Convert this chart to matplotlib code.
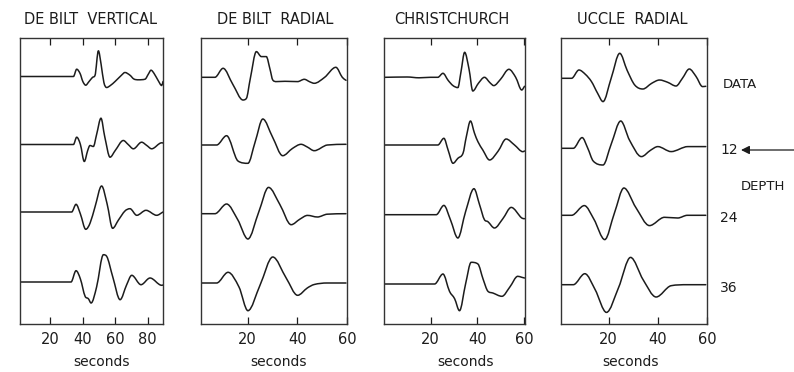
import numpy as np
import matplotlib
matplotlib.use("Agg")
import matplotlib.pyplot as plt
from matplotlib.path import Path
from matplotlib.patches import PathPatch, FancyArrowPatch

# ---------------- data ----------------
stations = ["DE BILT  VERTICAL", "DE BILT  RADIAL", "CHRISTCHURCH", "UCCLE  RADIAL"]
trace_names = ["DATA", "12", "24", "36"]
xticks_per_station = [[20, 40, 60, 80], [20, 40, 60], [20, 40, 60], [20, 40, 60]]

# DE BILT VERTICAL  (time s, amplitude)
dbv_data_t = [1, 34.2, 36.2, 38.3, 40, 41.8, 43.6, 45.9, 47.5, 49.6, 51.3, 53, 54.7, 57, 59.9, 64, 66.0, 69.1, 71.5, 74.3, 78.4, 80.5, 82.1, 84, 86.5, 88.7, 89.5]
dbv_data_a = [0, 0, 7.3, 3, -5, -8.7, -5.5, -1, 1, 25.7, 12, -6, -11, -9, -5, 1.5, 4, 1.3, -2.5, -3.3, -2.7, 2.5, 6.3, 3, -4, -9, -5]
dbv_12_t = [1, 34.2, 36.2, 38.5, 40.9, 43, 44.4, 46.5, 48.5, 51.2, 53.5, 56.8, 60, 65, 68, 71.2, 76.3, 79.5, 82.5, 88.7, 89.5]
dbv_12_a = [0, 0, 7.3, 0, -17, -6, -1, -2, 10, 26.3, 8, -12.7, -6, 4, 0, -4.3, 2.3, -1, -4.3, 1.7, 1.5]
dbv_24_t = [1, 33.1, 35.8, 38.5, 41.8, 44.5, 47.5, 51.6, 55, 58.4, 62, 66, 69.1, 73.3, 79, 85.6, 89.5]
dbv_24_a = [0, 0, 7.7, -2, -17.3, -11, 5, 26, 8, -16.3, -8, 1, 3.3, -3.3, 1.7, -3.3, 0]
dbv_36_t = [1, 32.7, 35.8, 38.5, 41.4, 43.4, 45.1, 48.5, 52.7, 54.7, 58.5, 63, 67, 70.2, 75.9, 81.5, 88.7, 89.5]
dbv_36_a = [0, 0, 11.3, 3, -14.3, -16.7, -21, -5, 27.3, 25.7, 5, -17.7, -3, 6.7, -2.7, 4, -3.3, -3]

# DE BILT RADIAL
dbr_data_t = [1, 6.8, 10.1, 14, 18.1, 19.5, 21, 23.5, 25.5, 27.5, 29, 30.1, 31.5, 35, 40.1, 42.8, 45, 46.8, 51, 55.5, 58.1, 59.6]
dbr_data_a = [0, 0, 9, -7, -22.7, -21, -2, 25.7, 20.7, 20.7, 8, -2.7, -4.3, -4, -4.3, -2, -4.5, -6, 0, 10, 0, -3]
dbr_12_t = [1, 7.5, 11.5, 16.1, 20.1, 23, 26.1, 30, 34.1, 38, 41.5, 44, 46.8, 52.1, 59.6]
dbr_12_a = [0, 0, 9.3, -16, -18.3, 3, 26, 8, -10.7, -3.5, 0.7, -2, -5.7, 0, 0.7]
dbr_24_t = [1, 6.8, 11.5, 16, 20.1, 24.5, 28.4, 33, 37.5, 41, 44.1, 48.1, 52, 59.6]
dbr_24_a = [0, 0, 9.7, -6, -25.3, 2, 26.3, 9, -11, -5.5, -1.7, -3.3, -0.5, 0]
dbr_36_t = [1, 7.5, 12.1, 16.5, 20.1, 25, 30.1, 35.5, 40.1, 44, 46.8, 52, 59.6]
dbr_36_a = [0, 0, 10.7, -4, -27.7, -2, 26, 5, -12.3, -5, -1.5, 0, 0]

# CHRISTCHURCH
chc_data_t = [0.5, 10, 15, 20, 23.1, 25.3, 27.5, 29.6, 31.7, 33, 34.6, 36.5, 38.1, 40.5, 43.1, 45.5, 47.1, 50, 53.6, 56.5, 59.1, 60.3]
chc_data_a = [0, 0.3, -0.5, 0, 0, 4, -3, -8.3, -10.3, 5, 25, 8, -13.7, -6, 0, -5.5, -8.3, -2, 8, 0, -12.7, -9]
chc_12_t = [0.5, 23.1, 25.7, 27.5, 29.6, 31.7, 33.9, 35.3, 37.1, 38.8, 40.3, 42.4, 45.3, 49, 52.4, 56, 59.6, 60.3]
chc_12_a = [0, 0, 6.7, -5, -18.3, -13.3, -8.3, 8, 24, 12, 3.3, -5, -15, -6, 6, 0, -6.7, -6]
chc_24_t = [0.5, 22.4, 25.7, 28.5, 31.7, 35, 38.6, 41, 43.1, 44.6, 47.4, 51, 54.6, 59.1, 60.3]
chc_24_a = [0, 0, 9.3, -5, -23.3, 3, 26, 10, -5, -7, -13.3, -4, 7.3, -3.3, -4]
chc_36_t = [0.5, 21.7, 25.3, 28.1, 30.3, 32.4, 35, 37.4, 40.3, 42.5, 44.6, 46.7, 50.6, 54, 57.4, 59.1, 60.3]
chc_36_a = [0, 0, 10, -7.3, -14.7, -26.7, 0, 21.7, 20, 5, -7.3, -9, -12.3, -3, 7.7, 6.7, 6]

# UCCLE RADIAL
ucr_data_t = [0.6, 4.9, 7.9, 10.5, 13, 15.5, 17.7, 21, 24.5, 27.5, 30.6, 33.9, 37.5, 40.7, 44, 47.4, 50, 52.8, 55.5, 58.2, 59.5]
ucr_data_a = [0, 0, 8.3, 4, -3.3, -15, -23.3, 0, 25, 8, -6.7, -10.7, -5, -1.7, -4, -7.7, 0, 9.3, 2, -8.3, -8]
ucr_12_t = [0.6, 5.6, 9.2, 11.5, 13.7, 17.7, 21, 24.9, 28.5, 33.3, 37, 40, 45.4, 52.2, 59.5]
ucr_12_a = [0, 0, 10.7, 0, -12.7, -16.7, 4, 27.3, 8, -8.3, -2, 1.7, -3.3, 1.7, 1.7]
ucr_24_t = [0.6, 4.9, 10.1, 14, 18.4, 22.3, 26.2, 31, 36.6, 42.7, 48.1, 52, 59.5]
ucr_24_a = [0, 0, 9.7, -4, -24.3, 2, 27.3, 8, -10.3, -2, -2.7, 0, 0]
ucr_36_t = [0.6, 5.6, 10.3, 14.5, 19.1, 24, 28.9, 34, 39.3, 45.4, 52, 59.5]
ucr_36_a = [0, 0, 11, -5, -27.7, -3, 27.3, 5, -12.3, -1, 0, 0]

traces = [
    [(dbv_data_t, dbv_data_a), (dbv_12_t, dbv_12_a), (dbv_24_t, dbv_24_a), (dbv_36_t, dbv_36_a)],
    [(dbr_data_t, dbr_data_a), (dbr_12_t, dbr_12_a), (dbr_24_t, dbr_24_a), (dbr_36_t, dbr_36_a)],
    [(chc_data_t, chc_data_a), (chc_12_t, chc_12_a), (chc_24_t, chc_24_a), (chc_36_t, chc_36_a)],
    [(ucr_data_t, ucr_data_a), (ucr_12_t, ucr_12_a), (ucr_24_t, ucr_24_a), (ucr_36_t, ucr_36_a)],
]

# ---------------- layout (pixels of a 794x372 canvas) ----------------
W, H = 794, 372
panel_lr = [(20, 163), (201, 347), (384, 525), (561, 707)]
panel_tb = (38, 324)
panel_xlim = [(1.2, 89.5), (1.2, 60), (0, 60.5), (0.6, 60)]
baselines = [[76.5, 144.5, 212, 282], [77.3, 145, 213.7, 283],
             [77.3, 145, 214.7, 284], [78.3, 148.3, 215.3, 284.7]]
title_x = [90, 275, 452, 632]
seconds_x = [102, 279, 466, 631]
ink = "#1c1c1c"


def smooth_path(t, y):
    """Cubic Bezier path through the read points (flat at local extrema)."""
    t = np.asarray(t, float)
    y = np.asarray(y, float)
    h = np.diff(t)
    d = np.diff(y) / h
    m = np.zeros_like(y)
    m[0], m[-1] = d[0], d[-1]
    for i in range(1, len(y) - 1):
        if d[i - 1] * d[i] > 0:
            c = (y[i + 1] - y[i - 1]) / (t[i + 1] - t[i - 1])
            lim = 3 * min(abs(d[i - 1]), abs(d[i]))
            m[i] = np.sign(c) * min(abs(c), lim)
    verts = [(t[0], y[0])]
    codes = [Path.MOVETO]
    for i in range(len(h)):
        verts += [(t[i] + h[i] / 3, y[i] + m[i] * h[i] / 3),
                  (t[i + 1] - h[i] / 3, y[i + 1] - m[i + 1] * h[i] / 3),
                  (t[i + 1], y[i + 1])]
        codes += [Path.CURVE4] * 3
    return Path(verts, codes)


plt.rcParams["font.family"] = ["DejaVu Sans"]
fig = plt.figure(figsize=(W / 100, H / 100), dpi=100)

top, bot = panel_tb
for k in range(4):
    L, R = panel_lr[k]
    ax = fig.add_axes([L / W, 1 - bot / H, (R - L) / W, (bot - top) / H])
    ax.set_xlim(*panel_xlim[k])
    ax.set_ylim(bot, top)
    for j, (t, a) in enumerate(traces[k]):
        y = baselines[k][j] - np.asarray(a, float)
        ax.add_patch(PathPatch(smooth_path(t, y), fill=False, lw=1.1,
                               edgecolor=ink, capstyle="round", joinstyle="round"))
    ax.set_xticks(xticks_per_station[k])
    ax.set_xticklabels([str(v) for v in xticks_per_station[k]], fontsize=10.5, color=ink)
    ax.tick_params(axis="x", direction="in", top=True, bottom=True, length=5,
                   width=0.9, color=ink, pad=6)
    ax.set_yticks([])
    for s in ax.spines.values():
        s.set_linewidth(1.0)
        s.set_color("#333333")
    fig.text(title_x[k] / W, 1 - 19 / H, stations[k], ha="center", va="center",
             fontsize=10.5, color=ink)
    fig.text(seconds_x[k] / W, 1 - 362 / H, "seconds", ha="center", va="center",
             fontsize=10, color=ink)

# right-hand labels
fig.text(723 / W, 1 - 84 / H, trace_names[0], ha="left", va="center", fontsize=9.5, color=ink)
fig.text(720 / W, 1 - 150 / H, trace_names[1], ha="left", va="center", fontsize=10, color=ink)
fig.text(720 / W, 1 - 218 / H, trace_names[2], ha="left", va="center", fontsize=10, color=ink)
fig.text(720 / W, 1 - 288 / H, trace_names[3], ha="left", va="center", fontsize=10, color=ink)
fig.text(741 / W, 1 - 186 / H, "DEPTH", ha="left", va="center", fontsize=9.5, color=ink)
fig.add_artist(FancyArrowPatch(
    (794 / W, 1 - 150 / H), (741 / W, 1 - 150 / H), transform=fig.transFigure,
    arrowstyle="-|>,head_length=5,head_width=2.5", lw=0.9, color=ink,
    shrinkA=0, shrinkB=0))

fig.savefig("out.png", dpi=100, facecolor="white")
